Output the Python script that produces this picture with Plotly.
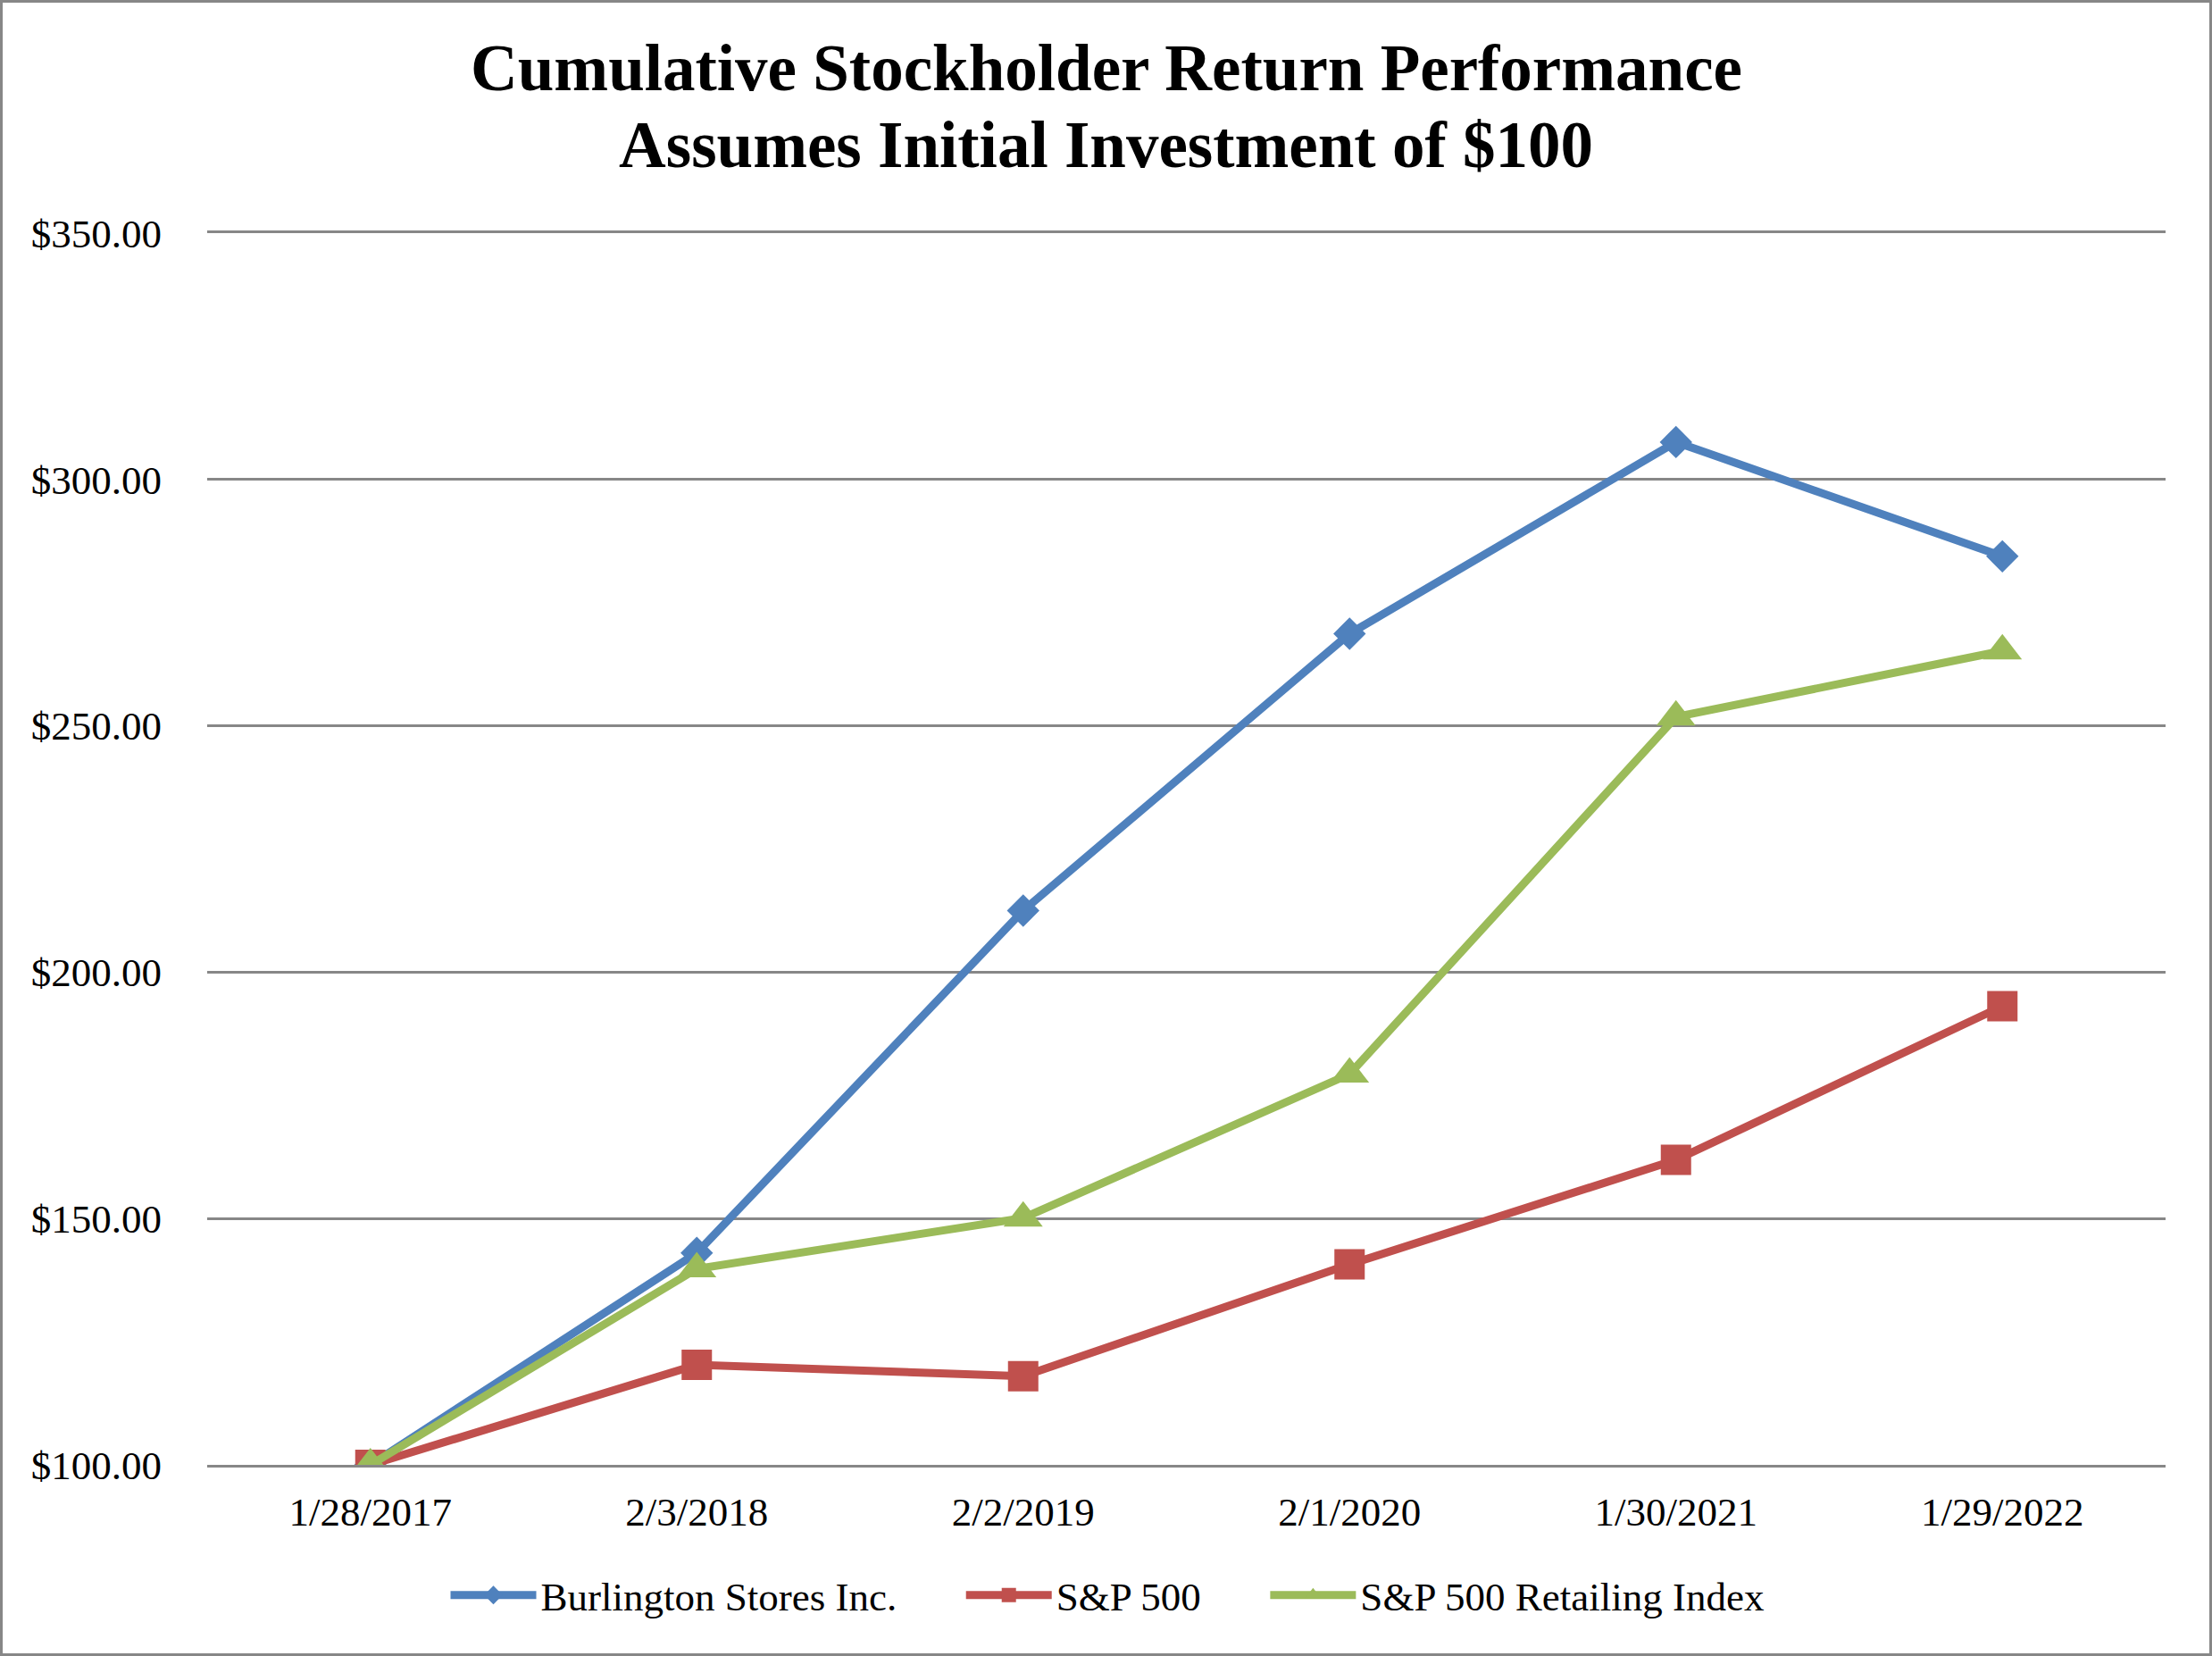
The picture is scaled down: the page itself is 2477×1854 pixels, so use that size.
import plotly.graph_objects as go

dates = ["1/28/2017", "2/3/2018", "2/2/2019", "2/1/2020", "1/30/2021", "1/29/2022"]
burlington = [100.0, 143.0, 212.5, 268.7, 307.6, 284.4]
sp500 = [100.0, 120.3, 118.0, 140.7, 161.9, 193.1]
sp_retail = [100.0, 139.8, 150.1, 179.3, 251.8, 265.2]
y_ticks = [100, 150, 200, 250, 300, 350]
series_names = ["Burlington Stores Inc.", "S&P 500", "S&P 500 Retailing Index"]
title_lines = ["Cumulative Stockholder Return Performance", "Assumes Initial Investment of $100"]

W, H = 2477, 1854
L, R, T, B = 232, 52, 261, 214
PW, PH = W - L - R, H - T - B

def px_x(x):
    return (x - L) / PW

def px_y(y):
    return (H - B - y) / PH

FONT = "Liberation Serif, Times New Roman, serif"
GRID = "#878787"
NB = "\u00a0"

fig = go.Figure()
fig.add_trace(go.Scatter(x=dates, y=burlington, name=series_names[0] + NB * 6, mode="lines+markers",
                         line=dict(color="#4F81BD", width=9),
                         marker=dict(symbol="diamond", size=28, color="#4F81BD")))
fig.add_trace(go.Scatter(x=dates, y=sp500, name=series_names[1] + NB * 6, mode="lines+markers",
                         line=dict(color="#C0504D", width=9),
                         marker=dict(symbol="square", size=34, color="#C0504D")))
fig.add_trace(go.Scatter(x=dates, y=sp_retail, name=series_names[2], mode="lines+markers",
                         line=dict(color="#9BBB59", width=9),
                         marker=dict(symbol="triangle-up", size=38, color="#9BBB59")))

fig.update_layout(
    width=W, height=H,
    margin=dict(l=L, r=R, t=T, b=B, pad=0),
    paper_bgcolor="white", plot_bgcolor="white",
    font=dict(family=FONT, size=45, color="black"),
    showlegend=True,
    legend=dict(orientation="h", x=px_x(1240), y=px_y(1786), xanchor="center", yanchor="middle",
                font=dict(family=FONT, size=45, color="black"), itemwidth=96,
                tracegroupgap=0, bgcolor="rgba(0,0,0,0)"),
    xaxis=dict(type="category", categoryorder="array", categoryarray=dates,
               range=[-0.5, len(dates) - 0.5], showgrid=False, zeroline=False,
               showline=True, mirror=True, linecolor=GRID, linewidth=3,
               ticks="", ticklabelstandoff=11,
               tickfont=dict(family=FONT, size=45, color="black")),
    yaxis=dict(range=[100, 350], tickvals=y_ticks, tickformat="$,.2f",
               showgrid=True, gridcolor=GRID, gridwidth=3, zeroline=False, showline=False,
               ticks="", ticklabelstandoff=50,
               tickfont=dict(family=FONT, size=45, color="black")),
)

for txt, yc in zip(title_lines, [77, 162]):
    fig.add_annotation(text=txt, xref="paper", yref="paper", x=px_x(1238.5), y=px_y(yc),
                       xanchor="center", yanchor="middle", showarrow=False,
                       font=dict(family=FONT, size=73, color="black", weight="bold"))

fig.add_shape(type="rect", xref="paper", yref="paper",
              x0=px_x(1.5), x1=px_x(W - 1.5), y0=px_y(H - 1.5), y1=px_y(1.5),
              line=dict(color=GRID, width=3), fillcolor="rgba(0,0,0,0)", layer="below")

fig.write_html("out.html", config={"displayModeBar": False},
               post_script="document.body.style.margin='0';document.body.style.overflow='hidden';")
